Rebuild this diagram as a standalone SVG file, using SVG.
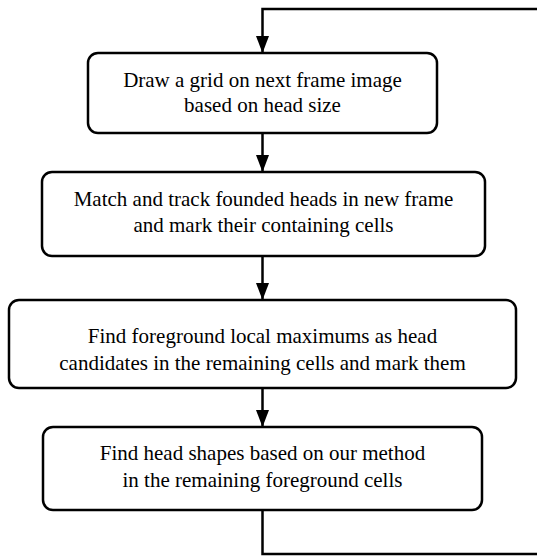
<svg xmlns="http://www.w3.org/2000/svg" width="537" height="556" viewBox="0 0 537 556">
<style>
.box{fill:#fff;stroke:#000;stroke-width:2.5}
.t{font-family:"Liberation Serif","Times New Roman",serif;font-size:21px;fill:#000;text-anchor:middle}
.c{fill:none;stroke:#000;stroke-width:2.5}
</style>
<defs>
<marker id="ah" markerWidth="17" markerHeight="13" refX="16" refY="6.5" orient="auto" markerUnits="userSpaceOnUse" viewBox="0 0 17 13">
<path d="M0,0 L17,6.5 L0,13 Z" fill="#000"/>
</marker>
</defs>
<rect width="537" height="556" fill="#fff"/>
<g id="connectors">
<path class="c" d="M537,9 H262.5 V52" marker-end="url(#ah)"/>
<path class="c" d="M262.5,133 V171" marker-end="url(#ah)"/>
<path class="c" d="M262.5,256 V299" marker-end="url(#ah)"/>
<path class="c" d="M262.5,388 V426" marker-end="url(#ah)"/>
<path class="c" d="M262.5,510 V554 H537"/>
</g>
<g id="n1">
<rect class="box" x="88" y="53" width="349" height="80" rx="10"/>
<text class="t" x="262.5" y="87">Draw a grid on next frame image</text>
<text class="t" x="262.5" y="112">based on head size</text>
</g>
<g id="n2">
<rect class="box" x="42" y="172" width="443" height="84" rx="10"/>
<text class="t" x="263.5" y="206">Match and track founded heads in new frame</text>
<text class="t" x="263.5" y="232">and mark their containing cells</text>
</g>
<g id="n3">
<rect class="box" x="9" y="300" width="507" height="88" rx="10"/>
<text class="t" x="262.5" y="343">Find foreground local maximums as head</text>
<text class="t" x="262.5" y="370">candidates in the remaining cells and mark them</text>
</g>
<g id="n4">
<rect class="box" x="43" y="427" width="439" height="83" rx="10"/>
<text class="t" x="262.5" y="460">Find head shapes based on our method</text>
<text class="t" x="262.5" y="487">in the remaining foreground cells</text>
</g>
</svg>
